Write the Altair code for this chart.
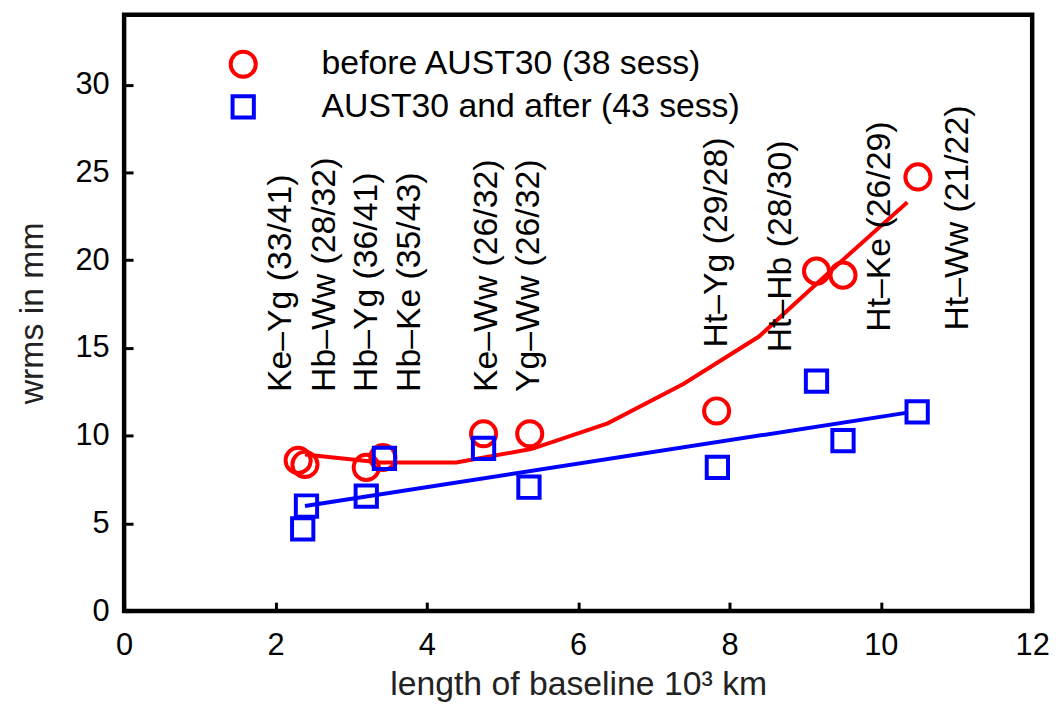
import altair as alt
import pandas as pd

FONT = "Liberation Sans"

series_names = ["before AUST30 (38 sess)", "AUST30 and after (43 sess)"]
series_colors = ["#ff0000", "#0000ff"]
series_shapes = ["circle", "square"]
series_sizes = [640, 460]

before_x = [2.30, 2.39, 3.20, 3.42, 4.75, 5.36, 7.83, 9.15, 9.50, 10.49]
before_y = [8.59, 8.36, 8.19, 8.76, 10.11, 10.11, 11.41, 19.38, 19.15, 24.75]

after_x = [2.36, 2.41, 3.20, 3.44, 4.75, 5.35, 7.84, 9.15, 9.50, 10.48]
after_y = [4.69, 5.99, 6.55, 8.70, 9.27, 7.06, 8.19, 13.11, 9.72, 11.36]

before_fit_x = [2.39, 3.39, 4.39, 5.39, 6.39, 7.39, 8.39, 9.39, 10.35]
before_fit_y = [8.93, 8.47, 8.47, 9.25, 10.70, 12.95, 15.65, 19.60, 23.30]

after_fit_x = [2.39, 10.33]
after_fit_y = [5.99, 11.30]

baseline_labels = ["Ke–Yg (33/41)", "Hb–Ww (28/32)", "Hb–Yg (36/41)", "Hb–Ke (35/43)",
                   "Ke–Ww (26/32)", "Yg–Ww (26/32)", "Ht–Yg (29/28)", "Ht–Hb (28/30)",
                   "Ht–Ke (26/29)", "Ht–Ww (21/22)"]
label_x = [2.07, 2.66, 3.21, 3.78, 4.79, 5.35, 7.84, 8.68, 9.99, 11.02]
label_y = [12.49, 12.49, 12.49, 12.49, 12.49, 12.49, 15.03, 14.75, 15.93, 15.99]

x_ticks = [0, 2, 4, 6, 8, 10, 12]
y_ticks = [0, 5, 10, 15, 20, 25, 30]

points = pd.DataFrame({
    "x": before_x + after_x,
    "y": before_y + after_y,
    "series": [series_names[0]] * len(before_x) + [series_names[1]] * len(after_x),
})
fit_before = pd.DataFrame({"x": before_fit_x, "y": before_fit_y})
fit_after = pd.DataFrame({"x": after_fit_x, "y": after_fit_y})
labels = pd.DataFrame({"x": label_x, "y": label_y, "text": baseline_labels})

x_scale = alt.Scale(domain=[0, 12], nice=False, zero=False)
y_scale = alt.Scale(domain=[0, 34], nice=False, zero=False)

x_axis = alt.Axis(values=x_ticks, title="length of baseline 10³ km", grid=False, domain=False,
                  offset=-9, tickSize=9, tickWidth=3, tickColor="black",
                  labelFont=FONT, labelFontSize=31, labelColor="black", labelPadding=20,
                  titleFont=FONT, titleFontSize=34, titleFontWeight="normal", titleColor="#222222",
                  titlePadding=7, labelFlush=False)
y_axis = alt.Axis(values=y_ticks, title="wrms in mm", grid=False, domain=False,
                  offset=-9, tickSize=9, tickWidth=3, tickColor="black",
                  labelFont=FONT, labelFontSize=31, labelColor="black", labelPadding=15,
                  titleFont=FONT, titleFontSize=34, titleFontWeight="normal", titleColor="#222222",
                  titlePadding=26, labelFlush=False)

X = alt.X("x:Q", scale=x_scale, axis=x_axis)
Y = alt.Y("y:Q", scale=y_scale, axis=y_axis)

legend = alt.Legend(orient="none", legendX=103, legendY=33, title=None,
                    labelFont=FONT, labelFontSize=34, labelColor="black", labelLimit=0,
                    symbolSize=700, symbolStrokeWidth=4, labelOffset=62,
                    rowPadding=3, padding=0)

line_before = alt.Chart(fit_before).mark_line(color=series_colors[0], strokeWidth=4).encode(x=X, y=Y)
line_after = alt.Chart(fit_after).mark_line(color=series_colors[1], strokeWidth=4).encode(x=X, y=Y)

pts = alt.Chart(points).mark_point(filled=False, strokeWidth=4, opacity=1).encode(
    x=X, y=Y,
    color=alt.Color("series:N", scale=alt.Scale(domain=series_names, range=series_colors), legend=legend),
    shape=alt.Shape("series:N", scale=alt.Scale(domain=series_names, range=series_shapes), legend=legend),
    size=alt.Size("series:N", scale=alt.Scale(domain=series_names, range=series_sizes), legend=None),
)

txt = alt.Chart(labels).mark_text(angle=270, align="left", baseline="middle",
                                  font=FONT, fontSize=34, color="black").encode(
    x=X, y=Y, text="text:N")

chart = alt.layer(line_before, line_after, pts, txt).properties(
    width=915, height=601,
    autosize=alt.AutoSizeParams(type="none"),
    padding={"left": 117, "top": 4, "right": 23, "bottom": 100},
).configure_view(stroke="black", strokeWidth=4.5)

chart.save("out.html", embed_options={"renderer": "svg", "actions": False})
